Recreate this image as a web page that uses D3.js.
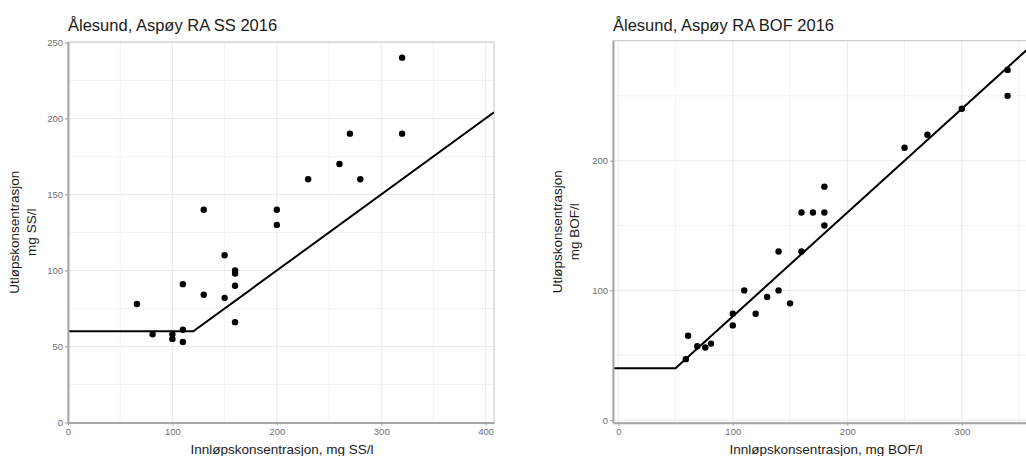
<!DOCTYPE html>
<html>
<head>
<meta charset="utf-8">
<script src="https://cdn.jsdelivr.net/npm/d3@7"></script>
<style>
  body { margin: 0; background: #fff; }
  svg { display: block; font-family: "Liberation Sans", Arial, sans-serif; }
  .grid line { stroke: #ebebeb; }
  .tick text { fill: #707070; font-size: 9.5px; }
  .tick line { stroke: #9a9a9a; }
</style>
</head>
<body>
<svg width="1026" height="456"></svg>
<script>
// SS panel
const ssInflow  = [320, 320, 270, 260, 280, 230, 130, 200, 200, 150, 160, 160, 160, 110, 130, 150, 66, 160, 81, 100, 100, 110, 110]
const ssOutflow = [240, 190, 190, 170, 160, 160, 140, 140, 130, 110, 100, 98, 90, 91, 84, 82, 78, 66, 58, 58, 55, 61, 53]
const ssLineX = [0, 120, 408]
const ssLineY = [60, 60, 204]
const ssXTicks = [0, 100, 200, 300, 400]
const ssYTicks = [0, 50, 100, 150, 200, 250]

// BOF panel
const bofInflow  = [340, 340, 300, 270, 250, 180, 160, 170, 180, 180, 140, 160, 110, 140, 130, 150, 100, 120, 100, 61, 69, 76, 81, 59]
const bofOutflow = [270, 250, 240, 220, 210, 180, 160, 160, 160, 150, 130, 130, 100, 100, 95, 90, 82, 82, 73, 65, 57, 56, 59, 47]
const bofLineX = [-5, 50, 380]
const bofLineY = [40, 40, 304]
const bofXTicks = [0, 100, 200, 300]
const bofYTicks = [0, 100, 200]

const svg = d3.select('svg')

function drawPanel(opt) {
  const {id, title, xLabel, yLabel, xs, ys, lineX, lineY, xDomain, yDomain, box, xTicks, yTicks, xMinor, yMinor} = opt

  const x = d3.scaleLinear().domain(xDomain).range([box.left, box.right])
  const y = d3.scaleLinear().domain(yDomain).range([box.bottom, box.top])

  const g = svg.append('g')

  g.append('clipPath').attr('id', 'clip-' + id)
    .append('rect')
    .attr('x', box.left).attr('y', box.top)
    .attr('width', box.right - box.left).attr('height', box.bottom - box.top)

  // grid
  const grid = g.append('g').attr('class', 'grid').attr('clip-path', `url(#clip-${id})`)
  grid.selectAll('line.vminor').data(xMinor).join('line')
    .attr('x1', d => x(d)).attr('x2', d => x(d))
    .attr('y1', box.top).attr('y2', box.bottom).attr('stroke-width', 0.6)
  grid.selectAll('line.hminor').data(yMinor).join('line')
    .attr('y1', d => y(d)).attr('y2', d => y(d))
    .attr('x1', box.left).attr('x2', box.right).attr('stroke-width', 0.6)
  grid.selectAll('line.vmajor').data(xTicks).join('line')
    .attr('x1', d => x(d)).attr('x2', d => x(d))
    .attr('y1', box.top).attr('y2', box.bottom).attr('stroke-width', 1.1)
  grid.selectAll('line.hmajor').data(yTicks).join('line')
    .attr('y1', d => y(d)).attr('y2', d => y(d))
    .attr('x1', box.left).attr('x2', box.right).attr('stroke-width', 1.1)

  // panel border
  g.append('rect')
    .attr('x', box.left).attr('y', box.top)
    .attr('width', box.right - box.left).attr('height', box.bottom - box.top)
    .attr('fill', 'none').attr('stroke', '#c4c4c4').attr('stroke-width', 1)

  // fitted line
  const line = d3.line().x(d => x(d[0])).y(d => y(d[1]))
  g.append('path')
    .datum(d3.zip(lineX, lineY))
    .attr('clip-path', `url(#clip-${id})`)
    .attr('d', line)
    .attr('fill', 'none').attr('stroke', '#000').attr('stroke-width', 2)

  // points
  g.append('g').attr('clip-path', `url(#clip-${id})`)
    .selectAll('circle').data(d3.zip(xs, ys)).join('circle')
    .attr('cx', d => x(d[0])).attr('cy', d => y(d[1])).attr('r', 3.2)
    .attr('fill', '#000')

  // axes
  const xAxis = g.append('g')
    .attr('transform', `translate(0,${box.bottom})`)
    .call(d3.axisBottom(x).tickValues(xTicks).tickSize(3).tickPadding(3).tickSizeOuter(0))
  const yAxis = g.append('g')
    .attr('transform', `translate(${box.left},0)`)
    .call(d3.axisLeft(y).tickValues(yTicks).tickSize(3).tickPadding(2).tickSizeOuter(0))
  xAxis.select('.domain').attr('stroke', '#a8a8a8').attr('stroke-width', 2)
  yAxis.select('.domain').attr('stroke', '#a8a8a8').attr('stroke-width', 2)

  // titles
  g.append('text')
    .attr('x', box.left).attr('y', 31)
    .attr('font-size', 16.5).attr('fill', '#1a1a1a')
    .text(title)

  g.append('text')
    .attr('x', opt.xLabelX).attr('y', 454)
    .attr('text-anchor', 'middle').attr('font-size', 13.5).attr('fill', '#1a1a1a')
    .text(xLabel)

  const cy = (box.top + box.bottom) / 2
  const yt = g.append('text')
    .attr('transform', `translate(${opt.yLabelX},${cy}) rotate(-90)`)
    .attr('text-anchor', 'middle').attr('font-size', 13.5).attr('fill', '#1a1a1a')
  yLabel.forEach((t, i) => {
    yt.append('tspan').attr('x', 0).attr('dy', i === 0 ? 0 : 17).text(t)
  })
}

drawPanel({
  id: 'ss',
  title: 'Ålesund, Aspøy RA SS 2016',
  xLabel: 'Innløpskonsentrasjon, mg SS/l',
  yLabel: ['Utløpskonsentrasjon', 'mg SS/l'],
  xs: ssInflow, ys: ssOutflow,
  lineX: ssLineX, lineY: ssLineY,
  xDomain: [0, 408], yDomain: [0, 250.3],
  box: {left: 68, right: 494, top: 42, bottom: 422.5},
  xTicks: ssXTicks, yTicks: ssYTicks,
  xMinor: [50, 150, 250, 350], yMinor: [25, 75, 125, 175, 225],
  xLabelX: 282, yLabelX: 19
})

drawPanel({
  id: 'bof',
  title: 'Ålesund, Aspøy RA BOF 2016',
  xLabel: 'Innløpskonsentrasjon, mg BOF/l',
  yLabel: ['Utløpskonsentrasjon', 'mg BOF/l'],
  xs: bofInflow, ys: bofOutflow,
  lineX: bofLineX, lineY: bofLineY,
  xDomain: [-4.6, 368.3], yDomain: [-2, 292.5],
  box: {left: 613, right: 1040, top: 40.7, bottom: 422.7},
  xTicks: bofXTicks, yTicks: bofYTicks,
  xMinor: [50, 150, 250, 350], yMinor: [50, 150, 250],
  xLabelX: 826, yLabelX: 562
})
</script>
</body>
</html>
